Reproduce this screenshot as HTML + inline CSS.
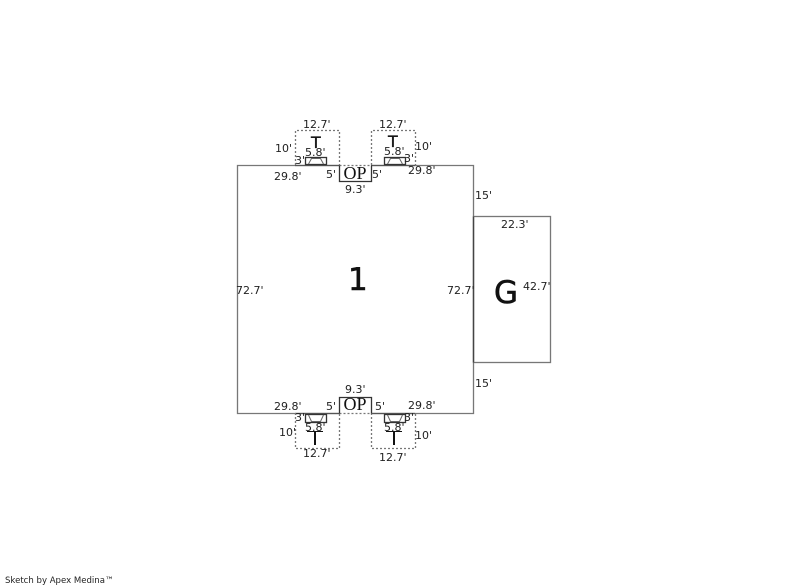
<!DOCTYPE html>
<html><head><meta charset="utf-8"><style>
html,body{margin:0;padding:0;background:#fff}
svg{display:block}
text{font-family:"DejaVu Sans",sans-serif;font-size:11px;fill:#222}
.op{font-family:"Liberation Serif",serif;font-size:18px;fill:#111}
.t{font-size:16px;fill:#111;stroke:#111;stroke-width:.3px}
.big{font-size:31px;fill:#111;stroke:#111;stroke-width:.6px}
.s{font-size:8.55px;fill:#222}
</style></head><body>
<svg width="800" height="587" viewBox="0 0 800 587" xmlns="http://www.w3.org/2000/svg">
<g fill="none" stroke="#777" stroke-width="1.3">
<path d="M339.500 165.500H237.500V413.500H339.500M371.500 413.500H473.500V165.500H371.500"/>
<rect x="473.500" y="216.500" width="77" height="146"/>
</g>
<path d="M473.500 216.500V362.500" stroke="#444" stroke-width="1.300" fill="none"/>
<path d="M295 165.500H339M371 165.500H415M295 413.500H339M371 413.500H415" stroke="#555" stroke-width="1.300" fill="none"/>
<g fill="none" stroke="#777" stroke-width="1.300" stroke-dasharray="2 2">
<path d="M295.500 165V130.500H339.500V165M339.500 165.500H371.500"/>
<path d="M371.500 165V130.500H415.500V165"/>
<path d="M295.500 413V448.500H339.500V413M339.500 413.500H371.500"/>
<path d="M371.500 413V448.500H415.500V413"/>
</g>
<g fill="none" stroke="#333" stroke-width="1.300">
<path d="M339.500 165.500V181.500H371.500V165.500"/>
<path d="M339.500 413.500V397.500H371.500V413.500"/>
<rect x="305.500" y="157.500" width="21" height="7"/>
<rect x="384.500" y="157.500" width="21" height="7"/>
<rect x="305.500" y="414.500" width="21" height="8"/>
<rect x="384.500" y="414.500" width="21" height="8"/>
</g>
<g fill="none" stroke="#666">
<path d="M308.500 164L311.500 158.500H320.500L323.500 164"/>
<path d="M387.500 164L390.500 158.500H399.500L402.500 164"/>
<path d="M308.500 415L311.500 421.500H320.500L323.500 415"/>
<path d="M387.500 415L390.500 421.500H399.500L402.500 415"/>
</g>
<g stroke="#111" stroke-width="2" fill="none">
<path d="M315 431V445M394 431V445"/>
</g>
<path d="M307 431.500H323M386 431.500H402" stroke="#111" fill="none"/>

<text class="t" x="311" y="148">T</text>
<text class="t" x="388" y="147">T</text>
<text class="op" x="343.500" y="179">OP</text>
<text class="op" x="343.500" y="410">OP</text>
<text class="big" x="348" y="290">1</text>
<text class="big" x="494" y="303">G</text>
<text class="s" x="5" y="583">Sketch by Apex Medina™</text>

<g transform="translate(0,-1)">
<text x="303" y="129">12.7'</text>
<text x="379" y="129">12.7'</text>
<text x="275" y="153">10'</text>
<text x="415" y="151">10'</text>
<text x="305" y="157">5.8'</text>
<text x="384" y="156">5.8'</text>
<text x="295" y="165">3'</text>
<text x="404" y="163">3'</text>
<text x="274" y="181">29.8'</text>
<text x="408" y="175">29.8'</text>
<text x="326" y="179">5'</text>
<text x="372" y="179">5'</text>
<text x="345" y="194">9.3'</text>
<text x="345" y="394">9.3'</text>
<text x="274" y="411">29.8'</text>
<text x="408" y="410">29.8'</text>
<text x="326" y="411">5'</text>
<text x="375" y="411">5'</text>
<text x="295" y="422">3'</text>
<text x="404" y="422">3'</text>
<text x="305" y="432">5.8'</text>
<text x="384" y="432">5.8'</text>
<text x="279" y="437">10'</text>
<text x="415" y="440">10'</text>
<text x="303" y="458">12.7'</text>
<text x="379" y="462">12.7'</text>
<text x="475" y="200">15'</text>
<text x="475" y="388">15'</text>
<text x="501" y="229">22.3'</text>
<text x="523" y="291">42.7'</text>
<text x="447" y="295">72.7'</text>
<text x="236" y="295">72.7'</text>
</g>
</svg>
</body></html>
